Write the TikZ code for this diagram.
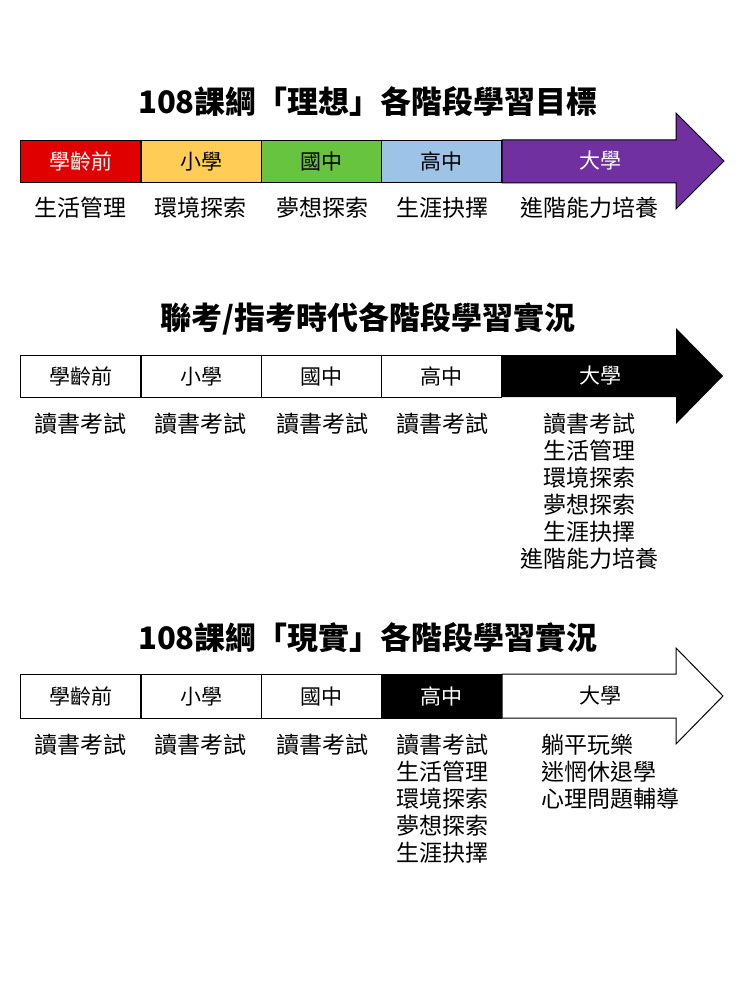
\documentclass[tikz,border=0pt]{standalone}
\usepackage{fontspec}
\setmainfont{Noto Sans CJK TC}
\begin{document}
\begin{tikzpicture}[x=1pt,y=-1pt,
  cell/.style={draw=black,line width=1pt,minimum width=120pt,minimum height=42pt,anchor=north west,inner sep=0pt,font=\fontsize{21}{24}\selectfont},
  lab/.style={font=\fontsize{23}{27}\selectfont,align=center,anchor=north,inner sep=0pt},
  ttl/.style={font=\bfseries\fontsize{31}{34}\selectfont}]
\useasboundingbox (0,0) rectangle (740,987);
\definecolor{cr}{HTML}{E00000}\definecolor{cy}{HTML}{FFCC55}\definecolor{cg}{HTML}{66C43E}
\definecolor{cb}{HTML}{9DC3E6}\definecolor{cp}{HTML}{7030A0}
% section 1
\node[ttl] (t1) at (368,102) {108課綱「理想」各階段學習目標};
\fill[cp,draw=black,line width=1pt] (502,140) -- (676,140) -- (676,113) -- (724,161) -- (676,209) -- (676,183) -- (502,183) -- cycle;
\node[cell,fill=cr,text=white] (a1) at (20,140) {學齡前};
\node[cell,fill=cy] (a2) at (141,140) {小學};
\node[cell,fill=cg] (a3) at (261,140) {國中};
\node[cell,fill=cb] (a4) at (381,140) {高中};
\node[font=\fontsize{21}{24}\selectfont,text=white] (a5) at (600,161) {大學};
\node[lab] (b1) at (80,197) {生活管理};
\node[lab] (b2) at (200,197) {環境探索};
\node[lab] (b3) at (322,197) {夢想探索};
\node[lab] (b4) at (442,197) {生涯抉擇};
\node[lab] (b5) at (589,197) {進階能力培養};
% section 2
\node[ttl] (t2) at (368,319) {聯考/指考時代各階段學習實況};
\fill[black] (502,355) -- (676,355) -- (676,328) -- (723,376) -- (676,424) -- (676,397) -- (502,397) -- cycle;
\node[cell] (c1) at (20,355) {學齡前};
\node[cell] (c2) at (141,355) {小學};
\node[cell] (c3) at (261,355) {國中};
\node[cell] (c4) at (381,355) {高中};
\node[font=\fontsize{21}{24}\selectfont,text=white] (c5) at (600,376) {大學};
\node[lab] (d1) at (80,413) {讀書考試};
\node[lab] (d2) at (200,413) {讀書考試};
\node[lab] (d3) at (322,413) {讀書考試};
\node[lab] (d4) at (442,413) {讀書考試};
\node[lab] (d5) at (589,413) {讀書考試\\生活管理\\環境探索\\夢想探索\\生涯抉擇\\進階能力培養};
% section 3
\node[ttl] (t3) at (368,638) {108課綱「現實」各階段學習實況};
\draw[line width=1pt,fill=white] (502,674) -- (676,674) -- (676,648) -- (723,696) -- (676,744) -- (676,718) -- (502,718) -- cycle;
\node[cell,minimum height=44pt] (e1) at (20,674) {學齡前};
\node[cell,minimum height=44pt] (e2) at (141,674) {小學};
\node[cell,minimum height=44pt] (e3) at (261,674) {國中};
\node[cell,minimum height=44pt,fill=black,text=white] (e4) at (381,674) {高中};
\node[font=\fontsize{21}{24}\selectfont] (e5) at (600,696) {大學};
\node[lab] (f1) at (80,734) {讀書考試};
\node[lab] (f2) at (200,734) {讀書考試};
\node[lab] (f3) at (322,734) {讀書考試};
\node[lab] (f4) at (442,734) {讀書考試\\生活管理\\環境探索\\夢想探索\\生涯抉擇};
\node[lab,align=left,anchor=north west] (f5) at (541,734) {躺平玩樂\\迷惘休退學\\心理問題輔導};
\end{tikzpicture}
\end{document}
